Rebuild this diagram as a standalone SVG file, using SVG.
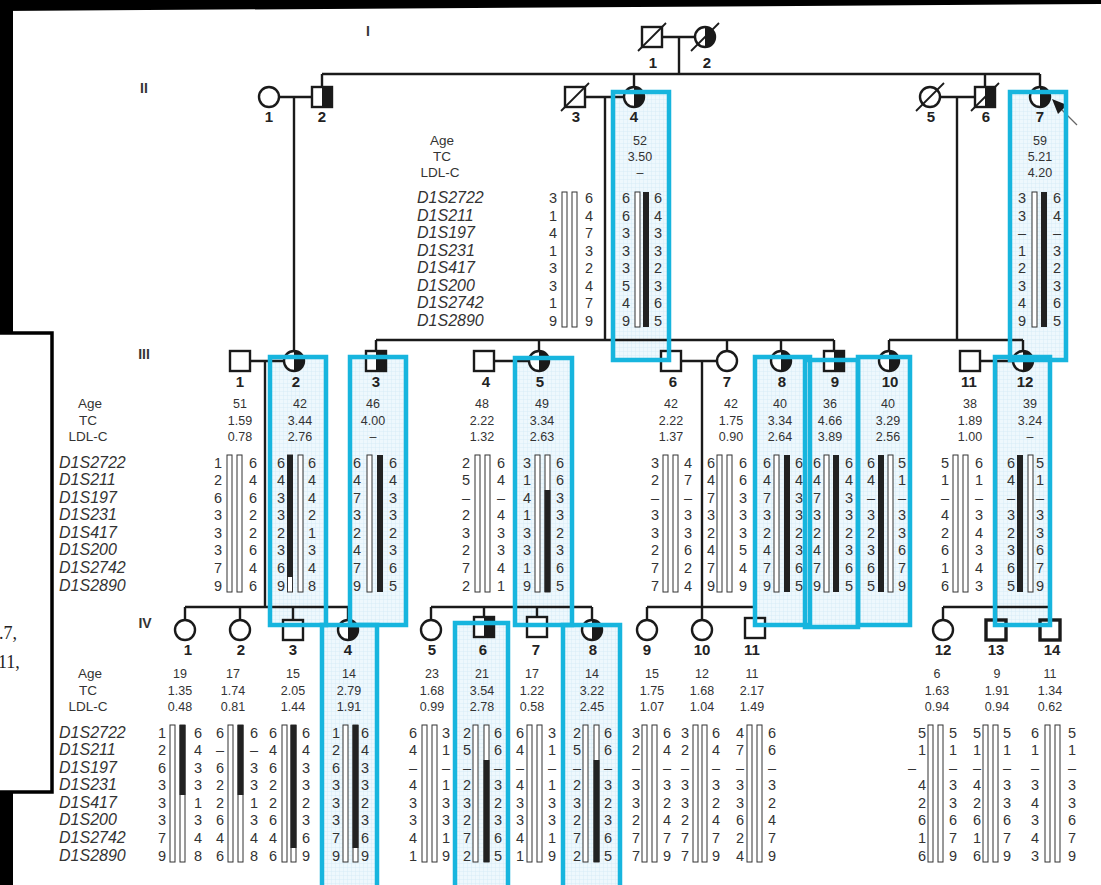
<svg xmlns="http://www.w3.org/2000/svg" width="1101" height="885" viewBox="0 0 1101 885">
<style>
.ln{stroke:#1a1a1a;stroke-width:2.4;fill:none}
.sl{stroke:#1a1a1a;stroke-width:1.8}
.sym{fill:#fff;stroke:#1a1a1a;stroke-width:2.4}
.lbl{font:bold 15px "Liberation Sans",Arial,sans-serif;text-anchor:middle;fill:#222}
.gen{font:bold 14px "Liberation Sans",Arial,sans-serif;text-anchor:middle;fill:#333}
.val{font:12.5px "Liberation Sans",Arial,sans-serif;text-anchor:middle;fill:#333}
.hd{font:13.5px "Liberation Sans",Arial,sans-serif;text-anchor:middle;fill:#333}
.mk{font:italic 16px "Liberation Sans",Arial,sans-serif;fill:#333}
.al{font:14.5px "Liberation Sans",Arial,sans-serif;text-anchor:middle;fill:#333}
.wb{fill:#fff;stroke:#333;stroke-width:1}
.bb{fill:#222}
.hf{fill:url(#grid)}
.hs{fill:none;stroke:#17b5de;stroke-width:4.5}
</style>
<defs>
<pattern id="grid" width="4" height="4" patternUnits="userSpaceOnUse"><rect width="4" height="4" fill="#eef8fd"/><path d="M4 0V4H0" fill="none" stroke="#cfe8f5" stroke-width="0.7"/></pattern>
<rect id="sq" x="-10" y="-10" width="20" height="20" class="sym"/>
<g id="sqA"><rect x="-10" y="-10" width="20" height="20" fill="#fff"/><rect x="0" y="-10" width="10" height="20" fill="#1a1a1a"/><rect x="-10" y="-10" width="20" height="20" fill="none" stroke="#1a1a1a" stroke-width="2.4"/></g>
<circle id="ci" r="10" class="sym"/>
<g id="ciA"><circle r="10" fill="#fff"/><path d="M0 -10A10 10 0 0 1 0 10Z" fill="#1a1a1a"/><circle r="10" fill="none" stroke="#1a1a1a" stroke-width="2.4"/></g>
</defs>
<rect width="1101" height="885" fill="#fff"/>
<g id="frame">
<polygon points="0,0 1101,0 1101,4 0,11" fill="#000"/>
<rect x="0" y="0" width="13" height="335" fill="#000"/>
<rect x="-5" y="333" width="57" height="459" fill="#fff" stroke="#000" stroke-width="3.5"/>
<rect x="0" y="793" width="13" height="92" fill="#000"/>
<text x="-1" y="639" font-family="Liberation Serif,serif" font-size="18" fill="#222">.7,</text>
<text x="-2" y="668" font-family="Liberation Serif,serif" font-size="18" fill="#222">11,</text>
</g>
<g id="highlight-fills">
<rect class="hf" x="613" y="92" width="56" height="268"/>
<rect class="hf" x="1010" y="92" width="56" height="268"/>
<rect class="hf" x="270" y="357" width="56" height="268"/>
<rect class="hf" x="350" y="357" width="56" height="268"/>
<rect class="hf" x="515" y="358" width="57" height="267"/>
<rect class="hf" x="755" y="357" width="55" height="268"/>
<rect class="hf" x="805" y="360" width="53" height="267"/>
<rect class="hf" x="858" y="357" width="52" height="268"/>
<rect class="hf" x="995" y="357" width="55" height="268"/>
<rect class="hf" x="322" y="625" width="55" height="270"/>
<rect class="hf" x="455" y="623" width="53" height="272"/>
<rect class="hf" x="563" y="625" width="57" height="270"/>
</g>
<g id="labels">
<text class="gen" x="368" y="36">I</text>
<text class="gen" x="144" y="93">II</text>
<text class="gen" x="144" y="359">III</text>
<text class="gen" x="145" y="628">IV</text>
<text class="hd" x="442" y="145">Age</text><text class="hd" x="442" y="161">TC</text><text class="hd" x="440" y="177">LDL-C</text>
<text class="mk" x="417" y="203">D1S2722<tspan x="417" dy="17.5">D1S211</tspan><tspan x="417" dy="17.5">D1S197</tspan><tspan x="417" dy="17.5">D1S231</tspan><tspan x="417" dy="17.5">D1S417</tspan><tspan x="417" dy="17.5">D1S200</tspan><tspan x="417" dy="17.5">D1S2742</tspan><tspan x="417" dy="17.5">D1S2890</tspan></text>
<text class="hd" x="90" y="408">Age</text><text class="hd" x="88" y="424.5">TC</text><text class="hd" x="88" y="441">LDL-C</text>
<text class="mk" x="59" y="467.6">D1S2722<tspan x="59" dy="17.57">D1S211</tspan><tspan x="59" dy="17.57">D1S197</tspan><tspan x="59" dy="17.57">D1S231</tspan><tspan x="59" dy="17.57">D1S417</tspan><tspan x="59" dy="17.57">D1S200</tspan><tspan x="59" dy="17.57">D1S2742</tspan><tspan x="59" dy="17.57">D1S2890</tspan></text>
<text class="hd" x="90" y="678">Age</text><text class="hd" x="88" y="694.5">TC</text><text class="hd" x="88" y="711">LDL-C</text>
<text class="mk" x="59" y="737.6">D1S2722<tspan x="59" dy="17.57">D1S211</tspan><tspan x="59" dy="17.57">D1S197</tspan><tspan x="59" dy="17.57">D1S231</tspan><tspan x="59" dy="17.57">D1S417</tspan><tspan x="59" dy="17.57">D1S200</tspan><tspan x="59" dy="17.57">D1S2742</tspan><tspan x="59" dy="17.57">D1S2890</tspan></text>
</g>
<g id="connectors">
<path class="ln" d="M662 37H695M679 37V74M322 74H1040M322 74V87M634 74V87M985 74V87M1040 74V87M279 97H312M294 97V351M585 97H624M605 97V340M376 340H834M376 340V351M539 340V351M727 340V351M781 340V351M834 340V351M940 97H975M957 97V340M889 340H1023M889 340V351M1023 340V351M250 361H284M265 361V607M185 607H348M185 607V620M240 607V620M293 607V620M348 607V620M494 361H529M515 361V607M431 607H592M431 607V620M484 607V617M537 607V617M592 607V620M681 361H717M702 361V607M647 607H755M647 607V620M702 607V620M755 607V618M980 361H1013M996 361V607M943 607H1050M943 607V620M996 607V620M1050 607V620"/>
</g>
<g id="I-1"><use href="#sq" x="652" y="37"/><line class="sl" x1="638" y1="51" x2="666" y2="23"/><text class="lbl" x="653" y="68">1</text></g>
<g id="I-2"><use href="#ciA" x="705" y="37"/><line class="sl" x1="691" y1="51" x2="719" y2="23"/><text class="lbl" x="707" y="68">2</text></g>
<g id="II-1"><use href="#ci" x="269" y="97"/><text class="lbl" x="269" y="122">1</text></g>
<g id="II-2"><use href="#sqA" x="322" y="97"/><text class="lbl" x="322" y="122">2</text></g>
<g id="II-3"><use href="#sq" x="575" y="97"/><line class="sl" x1="561" y1="111" x2="589" y2="83"/><text class="lbl" x="576" y="122">3</text>
<rect class="wb" x="562" y="192" width="5" height="135"/><rect class="wb" x="572" y="192" width="5" height="135"/>
<text class="al" x="553" y="203">3<tspan x="553" dy="17.5">1</tspan><tspan x="553" dy="17.5">4</tspan><tspan x="553" dy="17.5">1</tspan><tspan x="553" dy="17.5">3</tspan><tspan x="553" dy="17.5">3</tspan><tspan x="553" dy="17.5">1</tspan><tspan x="553" dy="17.5">9</tspan></text>
<text class="al" x="589" y="203">6<tspan x="589" dy="17.5">4</tspan><tspan x="589" dy="17.5">7</tspan><tspan x="589" dy="17.5">3</tspan><tspan x="589" dy="17.5">2</tspan><tspan x="589" dy="17.5">4</tspan><tspan x="589" dy="17.5">7</tspan><tspan x="589" dy="17.5">9</tspan></text></g>
<g id="II-4"><use href="#ciA" x="634" y="97"/><text class="lbl" x="634" y="122">4</text>
<text class="val" x="640" y="145">52<tspan x="640" dy="16">3.50</tspan><tspan x="640" dy="16">–</tspan></text>
<rect class="wb" x="635" y="192" width="5" height="135"/><rect class="bb" x="643" y="192" width="6" height="135"/>
<text class="al" x="626" y="203">6<tspan x="626" dy="17.5">6</tspan><tspan x="626" dy="17.5">3</tspan><tspan x="626" dy="17.5">3</tspan><tspan x="626" dy="17.5">3</tspan><tspan x="626" dy="17.5">5</tspan><tspan x="626" dy="17.5">4</tspan><tspan x="626" dy="17.5">9</tspan></text>
<text class="al" x="658" y="203">6<tspan x="658" dy="17.5">4</tspan><tspan x="658" dy="17.5">3</tspan><tspan x="658" dy="17.5">3</tspan><tspan x="658" dy="17.5">2</tspan><tspan x="658" dy="17.5">3</tspan><tspan x="658" dy="17.5">6</tspan><tspan x="658" dy="17.5">5</tspan></text></g>
<g id="II-5"><use href="#ci" x="930" y="97"/><line class="sl" x1="916" y1="111" x2="944" y2="83"/><text class="lbl" x="931" y="122">5</text></g>
<g id="II-6"><use href="#sqA" x="985" y="97"/><line class="sl" x1="971" y1="111" x2="999" y2="83"/><text class="lbl" x="986" y="122">6</text></g>
<g id="II-7"><use href="#ciA" x="1040" y="97"/><text class="lbl" x="1040" y="122">7</text>
<text class="val" x="1040" y="145">59<tspan x="1040" dy="16">5.21</tspan><tspan x="1040" dy="16">4.20</tspan></text>
<rect class="wb" x="1032" y="192" width="5" height="135"/><rect class="bb" x="1041" y="192" width="6" height="135"/>
<text class="al" x="1022" y="203">3<tspan x="1022" dy="17.5">3</tspan><tspan x="1022" dy="17.5">–</tspan><tspan x="1022" dy="17.5">1</tspan><tspan x="1022" dy="17.5">2</tspan><tspan x="1022" dy="17.5">3</tspan><tspan x="1022" dy="17.5">4</tspan><tspan x="1022" dy="17.5">9</tspan></text>
<text class="al" x="1057" y="203">6<tspan x="1057" dy="17.5">4</tspan><tspan x="1057" dy="17.5">–</tspan><tspan x="1057" dy="17.5">3</tspan><tspan x="1057" dy="17.5">2</tspan><tspan x="1057" dy="17.5">3</tspan><tspan x="1057" dy="17.5">6</tspan><tspan x="1057" dy="17.5">5</tspan></text></g>
<g id="proband-arrow"><line x1="1077" y1="125" x2="1062" y2="110" stroke="#666" stroke-width="1.2"/><polygon points="1052,99 1067,105 1058,114" fill="#1a1a1a"/></g>
<g id="III-1"><use href="#sq" x="240" y="361"/><text class="lbl" x="240" y="387">1</text>
<text class="val" x="240" y="408">51<tspan x="240" dy="16.5">1.59</tspan><tspan x="240" dy="16.5">0.78</tspan></text>
<rect class="wb" x="227" y="455" width="5" height="137"/><rect class="wb" x="237" y="455" width="5" height="137"/>
<text class="al" x="218" y="467.6">1<tspan x="218" dy="17.57">2</tspan><tspan x="218" dy="17.57">6</tspan><tspan x="218" dy="17.57">3</tspan><tspan x="218" dy="17.57">3</tspan><tspan x="218" dy="17.57">3</tspan><tspan x="218" dy="17.57">7</tspan><tspan x="218" dy="17.57">9</tspan></text>
<text class="al" x="253" y="467.6">6<tspan x="253" dy="17.57">4</tspan><tspan x="253" dy="17.57">6</tspan><tspan x="253" dy="17.57">2</tspan><tspan x="253" dy="17.57">2</tspan><tspan x="253" dy="17.57">6</tspan><tspan x="253" dy="17.57">4</tspan><tspan x="253" dy="17.57">6</tspan></text></g>
<g id="III-2"><use href="#ciA" x="294" y="361"/><text class="lbl" x="296" y="387">2</text>
<text class="val" x="300" y="408">42<tspan x="300" dy="16.5">3.44</tspan><tspan x="300" dy="16.5">2.76</tspan></text>
<rect class="wb" x="287.5" y="455" width="5" height="137"/><rect class="bb" x="287" y="455" width="6" height="122"/><rect class="wb" x="298" y="455" width="5" height="137"/>
<text class="al" x="281" y="467.6">6<tspan x="281" dy="17.57">4</tspan><tspan x="281" dy="17.57">3</tspan><tspan x="281" dy="17.57">3</tspan><tspan x="281" dy="17.57">2</tspan><tspan x="281" dy="17.57">3</tspan><tspan x="281" dy="17.57">6</tspan><tspan x="281" dy="17.57">9</tspan></text>
<text class="al" x="312" y="467.6">6<tspan x="312" dy="17.57">4</tspan><tspan x="312" dy="17.57">4</tspan><tspan x="312" dy="17.57">2</tspan><tspan x="312" dy="17.57">1</tspan><tspan x="312" dy="17.57">3</tspan><tspan x="312" dy="17.57">4</tspan><tspan x="312" dy="17.57">8</tspan></text></g>
<g id="III-3"><use href="#sqA" x="376" y="361"/><text class="lbl" x="376" y="387">3</text>
<text class="val" x="373" y="408">46<tspan x="373" dy="16.5">4.00</tspan><tspan x="373" dy="16.5">–</tspan></text>
<rect class="wb" x="367" y="455" width="5" height="137"/><rect class="bb" x="377" y="455" width="6" height="137"/>
<text class="al" x="357" y="467.6">6<tspan x="357" dy="17.57">4</tspan><tspan x="357" dy="17.57">7</tspan><tspan x="357" dy="17.57">3</tspan><tspan x="357" dy="17.57">2</tspan><tspan x="357" dy="17.57">4</tspan><tspan x="357" dy="17.57">7</tspan><tspan x="357" dy="17.57">9</tspan></text>
<text class="al" x="393" y="467.6">6<tspan x="393" dy="17.57">4</tspan><tspan x="393" dy="17.57">3</tspan><tspan x="393" dy="17.57">3</tspan><tspan x="393" dy="17.57">2</tspan><tspan x="393" dy="17.57">3</tspan><tspan x="393" dy="17.57">6</tspan><tspan x="393" dy="17.57">5</tspan></text></g>
<g id="III-4"><use href="#sq" x="484" y="361"/><text class="lbl" x="486" y="387">4</text>
<text class="val" x="482" y="408">48<tspan x="482" dy="16.5">2.22</tspan><tspan x="482" dy="16.5">1.32</tspan></text>
<rect class="wb" x="475" y="455" width="5" height="137"/><rect class="wb" x="485" y="455" width="5" height="137"/>
<text class="al" x="466" y="467.6">2<tspan x="466" dy="17.57">5</tspan><tspan x="466" dy="17.57">–</tspan><tspan x="466" dy="17.57">2</tspan><tspan x="466" dy="17.57">3</tspan><tspan x="466" dy="17.57">2</tspan><tspan x="466" dy="17.57">7</tspan><tspan x="466" dy="17.57">2</tspan></text>
<text class="al" x="501" y="467.6">6<tspan x="501" dy="17.57">4</tspan><tspan x="501" dy="17.57">–</tspan><tspan x="501" dy="17.57">4</tspan><tspan x="501" dy="17.57">3</tspan><tspan x="501" dy="17.57">3</tspan><tspan x="501" dy="17.57">4</tspan><tspan x="501" dy="17.57">1</tspan></text></g>
<g id="III-5"><use href="#ciA" x="539" y="361"/><text class="lbl" x="540" y="387">5</text>
<text class="val" x="542" y="408">49<tspan x="542" dy="16.5">3.34</tspan><tspan x="542" dy="16.5">2.63</tspan></text>
<rect class="wb" x="535" y="455" width="5" height="137"/><rect class="wb" x="545" y="455" width="5" height="137"/><rect class="bb" x="544.5" y="490" width="6" height="102"/>
<text class="al" x="527" y="467.6">3<tspan x="527" dy="17.57">1</tspan><tspan x="527" dy="17.57">4</tspan><tspan x="527" dy="17.57">1</tspan><tspan x="527" dy="17.57">3</tspan><tspan x="527" dy="17.57">3</tspan><tspan x="527" dy="17.57">1</tspan><tspan x="527" dy="17.57">9</tspan></text>
<text class="al" x="560" y="467.6">6<tspan x="560" dy="17.57">6</tspan><tspan x="560" dy="17.57">3</tspan><tspan x="560" dy="17.57">3</tspan><tspan x="560" dy="17.57">2</tspan><tspan x="560" dy="17.57">3</tspan><tspan x="560" dy="17.57">6</tspan><tspan x="560" dy="17.57">5</tspan></text></g>
<g id="III-6"><use href="#sq" x="671" y="361"/><text class="lbl" x="673" y="387">6</text>
<text class="val" x="671" y="408">42<tspan x="671" dy="16.5">2.22</tspan><tspan x="671" dy="16.5">1.37</tspan></text>
<rect class="wb" x="663" y="455" width="5" height="137"/><rect class="wb" x="673" y="455" width="5" height="137"/>
<text class="al" x="655" y="467.6">3<tspan x="655" dy="17.57">2</tspan><tspan x="655" dy="17.57">–</tspan><tspan x="655" dy="17.57">3</tspan><tspan x="655" dy="17.57">3</tspan><tspan x="655" dy="17.57">2</tspan><tspan x="655" dy="17.57">7</tspan><tspan x="655" dy="17.57">7</tspan></text>
<text class="al" x="688" y="467.6">4<tspan x="688" dy="17.57">7</tspan><tspan x="688" dy="17.57">–</tspan><tspan x="688" dy="17.57">3</tspan><tspan x="688" dy="17.57">3</tspan><tspan x="688" dy="17.57">6</tspan><tspan x="688" dy="17.57">2</tspan><tspan x="688" dy="17.57">4</tspan></text></g>
<g id="III-7"><use href="#ci" x="727" y="361"/><text class="lbl" x="727" y="387">7</text>
<text class="val" x="731" y="408">42<tspan x="731" dy="16.5">1.75</tspan><tspan x="731" dy="16.5">0.90</tspan></text>
<rect class="wb" x="717" y="455" width="5" height="137"/><rect class="wb" x="727" y="455" width="5" height="137"/>
<text class="al" x="711" y="467.6">6<tspan x="711" dy="17.57">4</tspan><tspan x="711" dy="17.57">7</tspan><tspan x="711" dy="17.57">3</tspan><tspan x="711" dy="17.57">2</tspan><tspan x="711" dy="17.57">4</tspan><tspan x="711" dy="17.57">7</tspan><tspan x="711" dy="17.57">9</tspan></text>
<text class="al" x="743" y="467.6">6<tspan x="743" dy="17.57">6</tspan><tspan x="743" dy="17.57">3</tspan><tspan x="743" dy="17.57">3</tspan><tspan x="743" dy="17.57">3</tspan><tspan x="743" dy="17.57">5</tspan><tspan x="743" dy="17.57">4</tspan><tspan x="743" dy="17.57">9</tspan></text></g>
<g id="III-8"><use href="#ciA" x="781" y="361"/><text class="lbl" x="782" y="387">8</text>
<text class="val" x="780" y="408">40<tspan x="780" dy="16.5">3.34</tspan><tspan x="780" dy="16.5">2.64</tspan></text>
<rect class="wb" x="774" y="455" width="5" height="137"/><rect class="bb" x="784" y="455" width="6" height="137"/>
<text class="al" x="767" y="467.6">6<tspan x="767" dy="17.57">4</tspan><tspan x="767" dy="17.57">7</tspan><tspan x="767" dy="17.57">3</tspan><tspan x="767" dy="17.57">2</tspan><tspan x="767" dy="17.57">4</tspan><tspan x="767" dy="17.57">7</tspan><tspan x="767" dy="17.57">9</tspan></text>
<text class="al" x="799" y="467.6">6<tspan x="799" dy="17.57">4</tspan><tspan x="799" dy="17.57">3</tspan><tspan x="799" dy="17.57">3</tspan><tspan x="799" dy="17.57">2</tspan><tspan x="799" dy="17.57">3</tspan><tspan x="799" dy="17.57">6</tspan><tspan x="799" dy="17.57">5</tspan></text></g>
<g id="III-9"><use href="#sqA" x="834" y="361"/><text class="lbl" x="835" y="387">9</text>
<text class="val" x="830" y="408">36<tspan x="830" dy="16.5">4.66</tspan><tspan x="830" dy="16.5">3.89</tspan></text>
<rect class="wb" x="824" y="455" width="5" height="137"/><rect class="bb" x="833" y="455" width="6" height="137"/>
<text class="al" x="817" y="467.6">6<tspan x="817" dy="17.57">4</tspan><tspan x="817" dy="17.57">7</tspan><tspan x="817" dy="17.57">3</tspan><tspan x="817" dy="17.57">2</tspan><tspan x="817" dy="17.57">4</tspan><tspan x="817" dy="17.57">7</tspan><tspan x="817" dy="17.57">9</tspan></text>
<text class="al" x="849" y="467.6">6<tspan x="849" dy="17.57">4</tspan><tspan x="849" dy="17.57">3</tspan><tspan x="849" dy="17.57">3</tspan><tspan x="849" dy="17.57">2</tspan><tspan x="849" dy="17.57">3</tspan><tspan x="849" dy="17.57">6</tspan><tspan x="849" dy="17.57">5</tspan></text></g>
<g id="III-10"><use href="#ciA" x="889" y="361"/><text class="lbl" x="890" y="387">10</text>
<text class="val" x="888" y="408">40<tspan x="888" dy="16.5">3.29</tspan><tspan x="888" dy="16.5">2.56</tspan></text>
<rect class="bb" x="878" y="455" width="6" height="137"/><rect class="wb" x="888" y="455" width="5" height="137"/>
<text class="al" x="871" y="467.6">6<tspan x="871" dy="17.57">4</tspan><tspan x="871" dy="17.57">–</tspan><tspan x="871" dy="17.57">3</tspan><tspan x="871" dy="17.57">2</tspan><tspan x="871" dy="17.57">3</tspan><tspan x="871" dy="17.57">6</tspan><tspan x="871" dy="17.57">5</tspan></text>
<text class="al" x="902" y="467.6">5<tspan x="902" dy="17.57">1</tspan><tspan x="902" dy="17.57">–</tspan><tspan x="902" dy="17.57">3</tspan><tspan x="902" dy="17.57">3</tspan><tspan x="902" dy="17.57">6</tspan><tspan x="902" dy="17.57">7</tspan><tspan x="902" dy="17.57">9</tspan></text></g>
<g id="III-11"><use href="#sq" x="970" y="361"/><text class="lbl" x="969" y="387">11</text>
<text class="val" x="970" y="408">38<tspan x="970" dy="16.5">1.89</tspan><tspan x="970" dy="16.5">1.00</tspan></text>
<rect class="wb" x="953" y="455" width="5" height="137"/><rect class="wb" x="963" y="455" width="5" height="137"/>
<text class="al" x="945" y="467.6">5<tspan x="945" dy="17.57">1</tspan><tspan x="945" dy="17.57">–</tspan><tspan x="945" dy="17.57">4</tspan><tspan x="945" dy="17.57">2</tspan><tspan x="945" dy="17.57">6</tspan><tspan x="945" dy="17.57">1</tspan><tspan x="945" dy="17.57">6</tspan></text>
<text class="al" x="979" y="467.6">6<tspan x="979" dy="17.57">1</tspan><tspan x="979" dy="17.57">–</tspan><tspan x="979" dy="17.57">3</tspan><tspan x="979" dy="17.57">4</tspan><tspan x="979" dy="17.57">3</tspan><tspan x="979" dy="17.57">4</tspan><tspan x="979" dy="17.57">3</tspan></text></g>
<g id="III-12"><use href="#ciA" x="1023" y="361"/><text class="lbl" x="1025" y="387">12</text>
<text class="val" x="1030" y="408">39<tspan x="1030" dy="16.5">3.24</tspan><tspan x="1030" dy="16.5">–</tspan></text>
<rect class="bb" x="1017" y="455" width="6" height="137"/><rect class="wb" x="1028" y="455" width="5" height="137"/>
<text class="al" x="1011" y="467.6">6<tspan x="1011" dy="17.57">4</tspan><tspan x="1011" dy="17.57">–</tspan><tspan x="1011" dy="17.57">3</tspan><tspan x="1011" dy="17.57">2</tspan><tspan x="1011" dy="17.57">3</tspan><tspan x="1011" dy="17.57">6</tspan><tspan x="1011" dy="17.57">5</tspan></text>
<text class="al" x="1040" y="467.6">5<tspan x="1040" dy="17.57">1</tspan><tspan x="1040" dy="17.57">–</tspan><tspan x="1040" dy="17.57">3</tspan><tspan x="1040" dy="17.57">3</tspan><tspan x="1040" dy="17.57">6</tspan><tspan x="1040" dy="17.57">7</tspan><tspan x="1040" dy="17.57">9</tspan></text></g>
<g id="IV-1"><use href="#ci" x="185" y="630"/><text class="lbl" x="188" y="655">1</text>
<text class="val" x="180" y="678">19<tspan x="180" dy="16.5">1.35</tspan><tspan x="180" dy="16.5">0.48</tspan></text>
<rect class="wb" x="170" y="725" width="5" height="137"/><rect class="wb" x="180" y="725" width="5" height="137"/><rect class="bb" x="179.5" y="725" width="6" height="70"/>
<text class="al" x="162" y="737.6">1<tspan x="162" dy="17.57">2</tspan><tspan x="162" dy="17.57">6</tspan><tspan x="162" dy="17.57">3</tspan><tspan x="162" dy="17.57">3</tspan><tspan x="162" dy="17.57">3</tspan><tspan x="162" dy="17.57">7</tspan><tspan x="162" dy="17.57">9</tspan></text>
<text class="al" x="198" y="737.6">6<tspan x="198" dy="17.57">4</tspan><tspan x="198" dy="17.57">3</tspan><tspan x="198" dy="17.57">3</tspan><tspan x="198" dy="17.57">1</tspan><tspan x="198" dy="17.57">3</tspan><tspan x="198" dy="17.57">4</tspan><tspan x="198" dy="17.57">8</tspan></text></g>
<g id="IV-2"><use href="#ci" x="240" y="630"/><text class="lbl" x="241" y="655">2</text>
<text class="val" x="233" y="678">17<tspan x="233" dy="16.5">1.74</tspan><tspan x="233" dy="16.5">0.81</tspan></text>
<rect class="wb" x="228" y="725" width="5" height="137"/><rect class="wb" x="238" y="725" width="5" height="137"/><rect class="bb" x="237.5" y="725" width="6" height="70"/>
<text class="al" x="220" y="737.6">6<tspan x="220" dy="17.57">–</tspan><tspan x="220" dy="17.57">6</tspan><tspan x="220" dy="17.57">2</tspan><tspan x="220" dy="17.57">2</tspan><tspan x="220" dy="17.57">6</tspan><tspan x="220" dy="17.57">4</tspan><tspan x="220" dy="17.57">6</tspan></text>
<text class="al" x="254" y="737.6">6<tspan x="254" dy="17.57">–</tspan><tspan x="254" dy="17.57">3</tspan><tspan x="254" dy="17.57">3</tspan><tspan x="254" dy="17.57">1</tspan><tspan x="254" dy="17.57">3</tspan><tspan x="254" dy="17.57">4</tspan><tspan x="254" dy="17.57">8</tspan></text></g>
<g id="IV-3"><use href="#sq" x="293" y="630"/><text class="lbl" x="293" y="655">3</text>
<text class="val" x="293" y="678">15<tspan x="293" dy="16.5">2.05</tspan><tspan x="293" dy="16.5">1.44</tspan></text>
<rect class="wb" x="282" y="725" width="5" height="137"/><rect class="wb" x="291" y="725" width="5" height="137"/><rect class="bb" x="290.5" y="725" width="6" height="123"/>
<text class="al" x="273" y="737.6">6<tspan x="273" dy="17.57">4</tspan><tspan x="273" dy="17.57">6</tspan><tspan x="273" dy="17.57">2</tspan><tspan x="273" dy="17.57">2</tspan><tspan x="273" dy="17.57">6</tspan><tspan x="273" dy="17.57">4</tspan><tspan x="273" dy="17.57">6</tspan></text>
<text class="al" x="306" y="737.6">6<tspan x="306" dy="17.57">4</tspan><tspan x="306" dy="17.57">3</tspan><tspan x="306" dy="17.57">3</tspan><tspan x="306" dy="17.57">2</tspan><tspan x="306" dy="17.57">3</tspan><tspan x="306" dy="17.57">6</tspan><tspan x="306" dy="17.57">9</tspan></text></g>
<g id="IV-4"><use href="#ciA" x="348" y="630"/><text class="lbl" x="348" y="655">4</text>
<text class="val" x="349" y="678">14<tspan x="349" dy="16.5">2.79</tspan><tspan x="349" dy="16.5">1.91</tspan></text>
<rect class="wb" x="343" y="725" width="5" height="137"/><rect class="wb" x="353" y="725" width="5" height="137"/><rect class="bb" x="352.5" y="725" width="6" height="123"/>
<text class="al" x="336" y="737.6">1<tspan x="336" dy="17.57">2</tspan><tspan x="336" dy="17.57">6</tspan><tspan x="336" dy="17.57">3</tspan><tspan x="336" dy="17.57">3</tspan><tspan x="336" dy="17.57">3</tspan><tspan x="336" dy="17.57">7</tspan><tspan x="336" dy="17.57">9</tspan></text>
<text class="al" x="365" y="737.6">6<tspan x="365" dy="17.57">4</tspan><tspan x="365" dy="17.57">3</tspan><tspan x="365" dy="17.57">3</tspan><tspan x="365" dy="17.57">2</tspan><tspan x="365" dy="17.57">3</tspan><tspan x="365" dy="17.57">6</tspan><tspan x="365" dy="17.57">9</tspan></text></g>
<g id="IV-5"><use href="#ci" x="431" y="630"/><text class="lbl" x="432" y="655">5</text>
<text class="val" x="432" y="678">23<tspan x="432" dy="16.5">1.68</tspan><tspan x="432" dy="16.5">0.99</tspan></text>
<rect class="wb" x="422" y="725" width="5" height="137"/><rect class="wb" x="432" y="725" width="5" height="137"/>
<text class="al" x="413" y="737.6">6<tspan x="413" dy="17.57">4</tspan><tspan x="413" dy="17.57">–</tspan><tspan x="413" dy="17.57">4</tspan><tspan x="413" dy="17.57">3</tspan><tspan x="413" dy="17.57">3</tspan><tspan x="413" dy="17.57">4</tspan><tspan x="413" dy="17.57">1</tspan></text>
<text class="al" x="446" y="737.6">3<tspan x="446" dy="17.57">1</tspan><tspan x="446" dy="17.57">–</tspan><tspan x="446" dy="17.57">1</tspan><tspan x="446" dy="17.57">3</tspan><tspan x="446" dy="17.57">3</tspan><tspan x="446" dy="17.57">1</tspan><tspan x="446" dy="17.57">9</tspan></text></g>
<g id="IV-6"><use href="#sqA" x="484" y="627"/><text class="lbl" x="483" y="655">6</text>
<text class="val" x="482" y="678">21<tspan x="482" dy="16.5">3.54</tspan><tspan x="482" dy="16.5">2.78</tspan></text>
<rect class="wb" x="473" y="725" width="5" height="137"/><rect class="wb" x="484" y="725" width="5" height="137"/><rect class="bb" x="483.5" y="760" width="6" height="102"/>
<text class="al" x="467" y="737.6">2<tspan x="467" dy="17.57">5</tspan><tspan x="467" dy="17.57">–</tspan><tspan x="467" dy="17.57">2</tspan><tspan x="467" dy="17.57">3</tspan><tspan x="467" dy="17.57">2</tspan><tspan x="467" dy="17.57">7</tspan><tspan x="467" dy="17.57">2</tspan></text>
<text class="al" x="498" y="737.6">6<tspan x="498" dy="17.57">6</tspan><tspan x="498" dy="17.57">–</tspan><tspan x="498" dy="17.57">3</tspan><tspan x="498" dy="17.57">2</tspan><tspan x="498" dy="17.57">3</tspan><tspan x="498" dy="17.57">6</tspan><tspan x="498" dy="17.57">5</tspan></text></g>
<g id="IV-7"><use href="#sq" x="537" y="627"/><text class="lbl" x="536" y="655">7</text>
<text class="val" x="532" y="678">17<tspan x="532" dy="16.5">1.22</tspan><tspan x="532" dy="16.5">0.58</tspan></text>
<rect class="wb" x="527" y="725" width="5" height="137"/><rect class="wb" x="537" y="725" width="5" height="137"/>
<text class="al" x="520" y="737.6">6<tspan x="520" dy="17.57">4</tspan><tspan x="520" dy="17.57">–</tspan><tspan x="520" dy="17.57">4</tspan><tspan x="520" dy="17.57">3</tspan><tspan x="520" dy="17.57">3</tspan><tspan x="520" dy="17.57">4</tspan><tspan x="520" dy="17.57">1</tspan></text>
<text class="al" x="552" y="737.6">3<tspan x="552" dy="17.57">1</tspan><tspan x="552" dy="17.57">–</tspan><tspan x="552" dy="17.57">1</tspan><tspan x="552" dy="17.57">3</tspan><tspan x="552" dy="17.57">3</tspan><tspan x="552" dy="17.57">1</tspan><tspan x="552" dy="17.57">9</tspan></text></g>
<g id="IV-8"><use href="#ciA" x="592" y="630"/><text class="lbl" x="593" y="655">8</text>
<text class="val" x="592" y="678">14<tspan x="592" dy="16.5">3.22</tspan><tspan x="592" dy="16.5">2.45</tspan></text>
<rect class="wb" x="583" y="725" width="5" height="137"/><rect class="wb" x="594" y="725" width="5" height="137"/><rect class="bb" x="593.5" y="760" width="6" height="102"/>
<text class="al" x="577" y="737.6">2<tspan x="577" dy="17.57">5</tspan><tspan x="577" dy="17.57">–</tspan><tspan x="577" dy="17.57">2</tspan><tspan x="577" dy="17.57">3</tspan><tspan x="577" dy="17.57">2</tspan><tspan x="577" dy="17.57">7</tspan><tspan x="577" dy="17.57">2</tspan></text>
<text class="al" x="608" y="737.6">6<tspan x="608" dy="17.57">6</tspan><tspan x="608" dy="17.57">–</tspan><tspan x="608" dy="17.57">3</tspan><tspan x="608" dy="17.57">2</tspan><tspan x="608" dy="17.57">3</tspan><tspan x="608" dy="17.57">6</tspan><tspan x="608" dy="17.57">5</tspan></text></g>
<g id="IV-9"><use href="#ci" x="647" y="630"/><text class="lbl" x="647" y="655">9</text>
<text class="val" x="652" y="678">15<tspan x="652" dy="16.5">1.75</tspan><tspan x="652" dy="16.5">1.07</tspan></text>
<rect class="wb" x="642" y="725" width="5" height="137"/><rect class="wb" x="652" y="725" width="5" height="137"/>
<text class="al" x="636" y="737.6">3<tspan x="636" dy="17.57">2</tspan><tspan x="636" dy="17.57">–</tspan><tspan x="636" dy="17.57">3</tspan><tspan x="636" dy="17.57">3</tspan><tspan x="636" dy="17.57">2</tspan><tspan x="636" dy="17.57">7</tspan><tspan x="636" dy="17.57">7</tspan></text>
<text class="al" x="667" y="737.6">6<tspan x="667" dy="17.57">4</tspan><tspan x="667" dy="17.57">–</tspan><tspan x="667" dy="17.57">3</tspan><tspan x="667" dy="17.57">2</tspan><tspan x="667" dy="17.57">4</tspan><tspan x="667" dy="17.57">7</tspan><tspan x="667" dy="17.57">9</tspan></text></g>
<g id="IV-10"><use href="#ci" x="702" y="630"/><text class="lbl" x="702" y="655">10</text>
<text class="val" x="702" y="678">12<tspan x="702" dy="16.5">1.68</tspan><tspan x="702" dy="16.5">1.04</tspan></text>
<rect class="wb" x="693" y="725" width="5" height="137"/><rect class="wb" x="702" y="725" width="5" height="137"/>
<text class="al" x="685" y="737.6">3<tspan x="685" dy="17.57">2</tspan><tspan x="685" dy="17.57">–</tspan><tspan x="685" dy="17.57">3</tspan><tspan x="685" dy="17.57">3</tspan><tspan x="685" dy="17.57">2</tspan><tspan x="685" dy="17.57">7</tspan><tspan x="685" dy="17.57">7</tspan></text>
<text class="al" x="716" y="737.6">6<tspan x="716" dy="17.57">4</tspan><tspan x="716" dy="17.57">–</tspan><tspan x="716" dy="17.57">3</tspan><tspan x="716" dy="17.57">2</tspan><tspan x="716" dy="17.57">4</tspan><tspan x="716" dy="17.57">7</tspan><tspan x="716" dy="17.57">9</tspan></text></g>
<g id="IV-11"><use href="#sq" x="755" y="628"/><text class="lbl" x="752" y="655">11</text>
<text class="val" x="752" y="678">11<tspan x="752" dy="16.5">2.17</tspan><tspan x="752" dy="16.5">1.49</tspan></text>
<rect class="wb" x="747" y="725" width="5" height="137"/><rect class="wb" x="757" y="725" width="5" height="137"/>
<text class="al" x="740" y="737.6">4<tspan x="740" dy="17.57">7</tspan><tspan x="740" dy="17.57">–</tspan><tspan x="740" dy="17.57">3</tspan><tspan x="740" dy="17.57">3</tspan><tspan x="740" dy="17.57">6</tspan><tspan x="740" dy="17.57">2</tspan><tspan x="740" dy="17.57">4</tspan></text>
<text class="al" x="772" y="737.6">6<tspan x="772" dy="17.57">6</tspan><tspan x="772" dy="17.57">–</tspan><tspan x="772" dy="17.57">3</tspan><tspan x="772" dy="17.57">2</tspan><tspan x="772" dy="17.57">4</tspan><tspan x="772" dy="17.57">7</tspan><tspan x="772" dy="17.57">9</tspan></text></g>
<g id="IV-12"><use href="#ci" x="943" y="630"/><text class="lbl" x="943" y="655">12</text>
<text class="val" x="937" y="678">6<tspan x="937" dy="16.5">1.63</tspan><tspan x="937" dy="16.5">0.94</tspan></text>
<rect class="wb" x="928" y="725" width="5" height="137"/><rect class="wb" x="938" y="725" width="5" height="137"/>
<text class="al" x="922" y="737.6">5<tspan x="922" dy="17.57">1</tspan><tspan x="912" dy="17.57">–</tspan><tspan x="922" dy="17.57">4</tspan><tspan x="922" dy="17.57">2</tspan><tspan x="922" dy="17.57">6</tspan><tspan x="922" dy="17.57">1</tspan><tspan x="922" dy="17.57">6</tspan></text>
<text class="al" x="953" y="737.6">5<tspan x="953" dy="17.57">1</tspan><tspan x="953" dy="17.57">–</tspan><tspan x="953" dy="17.57">3</tspan><tspan x="953" dy="17.57">3</tspan><tspan x="953" dy="17.57">6</tspan><tspan x="953" dy="17.57">7</tspan><tspan x="953" dy="17.57">9</tspan></text></g>
<g id="IV-13"><rect x="986" y="620" width="20" height="20" fill="#fff" stroke="#1a1a1a" stroke-width="3.4"/><text class="lbl" x="996" y="655">13</text>
<text class="val" x="997" y="678">9<tspan x="997" dy="16.5">1.91</tspan><tspan x="997" dy="16.5">0.94</tspan></text>
<rect class="wb" x="983" y="725" width="5" height="137"/><rect class="wb" x="993" y="725" width="5" height="137"/>
<text class="al" x="977" y="737.6">5<tspan x="977" dy="17.57">1</tspan><tspan x="977" dy="17.57">–</tspan><tspan x="977" dy="17.57">4</tspan><tspan x="977" dy="17.57">2</tspan><tspan x="977" dy="17.57">6</tspan><tspan x="977" dy="17.57">1</tspan><tspan x="977" dy="17.57">6</tspan></text>
<text class="al" x="1007" y="737.6">5<tspan x="1007" dy="17.57">1</tspan><tspan x="1007" dy="17.57">–</tspan><tspan x="1007" dy="17.57">3</tspan><tspan x="1007" dy="17.57">3</tspan><tspan x="1007" dy="17.57">6</tspan><tspan x="1007" dy="17.57">7</tspan><tspan x="1007" dy="17.57">9</tspan></text></g>
<g id="IV-14"><rect x="1040" y="620" width="20" height="20" fill="#fff" stroke="#1a1a1a" stroke-width="3.4"/><text class="lbl" x="1052" y="655">14</text>
<text class="val" x="1050" y="678">11<tspan x="1050" dy="16.5">1.34</tspan><tspan x="1050" dy="16.5">0.62</tspan></text>
<rect class="wb" x="1045" y="725" width="5" height="137"/><rect class="wb" x="1055" y="725" width="5" height="137"/>
<text class="al" x="1035" y="737.6">6<tspan x="1035" dy="17.57">1</tspan><tspan x="1035" dy="17.57">–</tspan><tspan x="1035" dy="17.57">3</tspan><tspan x="1035" dy="17.57">4</tspan><tspan x="1035" dy="17.57">3</tspan><tspan x="1035" dy="17.57">4</tspan><tspan x="1035" dy="17.57">3</tspan></text>
<text class="al" x="1072" y="737.6">5<tspan x="1072" dy="17.57">1</tspan><tspan x="1072" dy="17.57">–</tspan><tspan x="1072" dy="17.57">3</tspan><tspan x="1072" dy="17.57">3</tspan><tspan x="1072" dy="17.57">6</tspan><tspan x="1072" dy="17.57">7</tspan><tspan x="1072" dy="17.57">9</tspan></text></g>
<g id="highlight-frames">
<rect class="hs" x="613" y="92" width="56" height="268"/>
<rect class="hs" x="1010" y="92" width="56" height="268"/>
<rect class="hs" x="270" y="357" width="56" height="268"/>
<rect class="hs" x="350" y="357" width="56" height="268"/>
<rect class="hs" x="515" y="358" width="57" height="267"/>
<rect class="hs" x="755" y="357" width="55" height="268"/>
<rect class="hs" x="805" y="360" width="53" height="267"/>
<rect class="hs" x="858" y="357" width="52" height="268"/>
<rect class="hs" x="995" y="357" width="55" height="268"/>
<rect class="hs" x="322" y="625" width="55" height="270"/>
<rect class="hs" x="455" y="623" width="53" height="272"/>
<rect class="hs" x="563" y="625" width="57" height="270"/>
</g>
</svg>
